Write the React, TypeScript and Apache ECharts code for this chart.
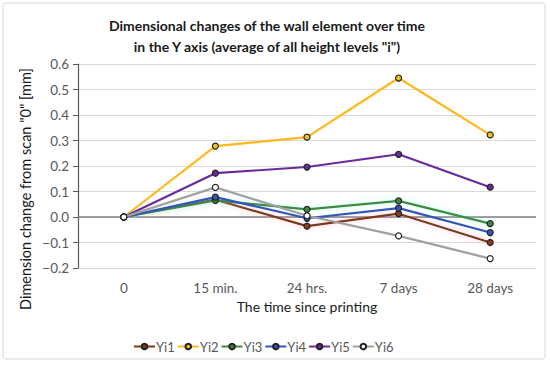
import React, { useEffect, useRef } from "react";
import * as echarts from "echarts";

const categories = ["0", "15 min.", "24 hrs.", "7 days", "28 days"];
const yi1 = [0, 0.068, -0.036, 0.013, -0.1];
const yi2 = [0, 0.278, 0.313, 0.545, 0.322];
const yi3 = [0, 0.065, 0.03, 0.063, -0.026];
const yi4 = [0, 0.078, -0.005, 0.035, -0.061];
const yi5 = [0, 0.172, 0.196, 0.246, 0.117];
const yi6 = [0, 0.116, 0.005, -0.074, -0.163];
const seriesNames = ["Yi1", "Yi2", "Yi3", "Yi4", "Yi5", "Yi6"];
const seriesData = [yi1, yi2, yi3, yi4, yi5, yi6];
const lineColors = ["#7B3A10", "#FFB81C", "#3F8A3A", "#3355B8", "#6A2B9C", "#A0A0A0"];
const markerFills = ["#8B3A1A", "#F2C21A", "#3F8A3A", "#3355B8", "#6A2B9C", "#FFFFFF"];
const glowColors = ["rgba(255,150,200,0.6)", "rgba(0,0,0,0)", "rgba(120,255,230,0.6)", "rgba(0,0,0,0)", "rgba(0,0,0,0)", "rgba(0,0,0,0)"];
const yAxisTitle = "Dimension change from scan \"0\" [mm]";

const FONT = "Lato, 'Open Sans', sans-serif";

export default function App() {
  const ref = useRef<HTMLDivElement>(null);
  useEffect(() => {
    if (!ref.current) return;
    const chart = echarts.init(ref.current, undefined, { renderer: "svg" });
    const series: any[] = seriesNames.map((name, i) => ({
      name,
      type: "line",
      data: seriesData[i],
      symbol: "circle",
      symbolSize: 6,
      showSymbol: true,
      lineStyle: {
        color: lineColors[i],
        width: 2.2,
        shadowColor: glowColors[i],
        shadowBlur: 6,
      },
      itemStyle: { color: markerFills[i], borderColor: "#222", borderWidth: 1.2 },
      z: 3 + i,
    }));
    series[0].markLine = {
      silent: true,
      symbol: "none",
      label: { show: false },
      lineStyle: { color: "#7F7F7F", width: 1.5, type: "solid" },
      data: [{ yAxis: 0 }],
      z: 1,
    };
    chart.setOption({
      animation: false,
      textStyle: { fontFamily: FONT },
      title: {
        text: "Dimensional changes of the wall element over time\nin the Y axis (average of all height levels \"i\")",
        left: 262,
        top: 10,
        textAlign: "center",
        textStyle: { fontFamily: FONT, fontSize: 14, fontWeight: "bold", color: "#1a1a1a", lineHeight: 21 },
      },
      legend: {
        top: 335,
        left: 128,
        itemWidth: 21,
        itemHeight: 7,
        itemGap: 2,
        data: seriesNames,
        textStyle: { fontFamily: FONT, fontSize: 13, color: "#595959", padding: [0, 0, 0, -4] },
      },
      grid: { left: 78, right: 14, top: 64, bottom: 97 },
      xAxis: {
        type: "category",
        data: categories,
        boundaryGap: true,
        name: "The time since printing",
        nameLocation: "middle",
        nameGap: 27,
        nameTextStyle: { fontFamily: FONT, fontSize: 14, color: "#1a1a1a" },
        axisLine: { show: false, onZero: false },
        axisTick: { show: false },
        axisLabel: { fontFamily: FONT, fontSize: 13.5, color: "#595959", margin: 13 },
      },
      yAxis: {
        type: "value",
        min: -0.2,
        max: 0.6,
        interval: 0.1,
        axisLine: { show: true, lineStyle: { color: "#595959", width: 1.2 } },
        axisTick: { show: true, length: 5, lineStyle: { color: "#595959" } },
        splitLine: { lineStyle: { color: "#D9D9D9", width: 1 } },
        axisLabel: {
          fontFamily: FONT,
          fontSize: 13.5,
          color: "#595959",
          margin: 9,
          formatter: (v: number) => (v < -1e-9 ? "\u2212" : "") + Math.abs(v).toFixed(1),
        },
      },
      graphic: [
        {
          type: "rect",
          shape: { x: 3, y: 3, width: 542, height: 356, r: 3 },
          style: { fill: "none", stroke: "#D9D9D9", lineWidth: 1 },
          silent: true,
          z: -1,
        },
        {
          type: "text",
          x: 25,
          y: 189,
          rotation: Math.PI / 2,
          style: {
            text: yAxisTitle,
            fontFamily: FONT,
            fontSize: 14.5,
            fill: "#1a1a1a",
            align: "center",
            verticalAlign: "middle",
          },
          silent: true,
        },
      ],
      series,
    });
    return () => chart.dispose();
  }, []);
  return <div ref={ref} style={{ width: 550, height: 365, position: "absolute", left: 0, top: 0, background: "#fff" }} />;
}
